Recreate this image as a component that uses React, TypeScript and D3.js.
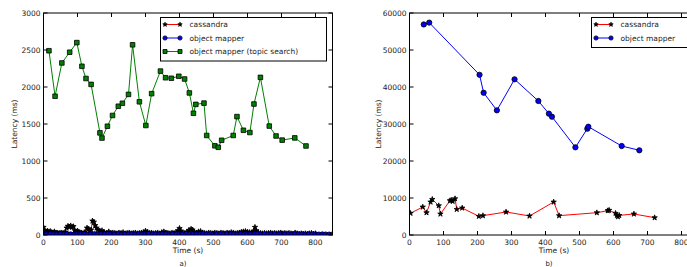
import * as d3 from 'd3';

// ---- panel a) ----
const cassandraA: [number, number][] = [
  [0, 105], [4, 60], [8, 45], [12, 55], [16, 40], [20, 50], [24, 35], [28, 30], [32, 45], [36, 25],
  [40, 30], [44, 20], [48, 25], [52, 30], [56, 20], [60, 25], [64, 40], [68, 95], [72, 120], [76, 110],
  [80, 125], [84, 105], [88, 115], [92, 60], [96, 45], [100, 55], [104, 40], [108, 25], [112, 30], [116, 20],
  [120, 35], [124, 25], [128, 95], [132, 80], [136, 60], [140, 70], [144, 190], [148, 175], [152, 130], [156, 95],
  [160, 70], [164, 55], [168, 45], [172, 60], [176, 35], [180, 30], [186, 25], [192, 45], [198, 20], [204, 30],
  [210, 25], [216, 20], [222, 30], [228, 25], [234, 35], [240, 20], [246, 25], [252, 30], [258, 20], [264, 25],
  [270, 30], [276, 20], [282, 25], [288, 30], [294, 35], [300, 55], [306, 40], [312, 25], [318, 30], [324, 20],
  [330, 25], [336, 30], [342, 20], [348, 35], [354, 45], [360, 30], [366, 25], [372, 20], [378, 30], [384, 25],
  [390, 35], [396, 60], [400, 90], [404, 55], [410, 30], [416, 25], [422, 40], [428, 65], [434, 80], [438, 70],
  [444, 40], [450, 30], [456, 45], [462, 50], [468, 30], [474, 25], [480, 20], [486, 30], [492, 25], [498, 20],
  [504, 30], [510, 25], [516, 20], [522, 30], [528, 25], [534, 20], [540, 30], [546, 25], [552, 35], [558, 30],
  [564, 20], [570, 25], [576, 30], [582, 40], [588, 45], [594, 50], [600, 40], [606, 35], [612, 30], [618, 55],
  [622, 105], [626, 60], [632, 30], [638, 25], [644, 20], [650, 25], [656, 20], [662, 25], [668, 30], [674, 20],
  [680, 25], [686, 20], [692, 25], [698, 30], [704, 20], [710, 25], [716, 20], [722, 25], [728, 20], [734, 15],
  [740, 30], [746, 20], [752, 15], [758, 20], [764, 15], [770, 20], [776, 15], [782, 20], [788, 25], [794, 15],
  [800, 20],
];

const mapperA: [number, number][] = [
  [0, 8], [10, 6], [20, 9], [30, 7], [40, 5], [50, 8], [60, 6], [70, 10], [80, 7], [90, 5],
  [100, 9], [110, 6], [120, 8], [130, 5], [140, 7], [150, 10], [160, 6], [170, 8], [180, 5], [190, 7],
  [200, 9], [210, 6], [220, 8], [230, 5], [240, 7], [250, 6], [260, 9], [270, 5], [280, 8], [290, 6],
  [300, 7], [310, 10], [320, 5], [330, 8], [340, 6], [350, 7], [360, 9], [370, 5], [380, 8], [390, 6],
  [400, 7], [410, 5], [420, 9], [430, 6], [440, 8], [450, 5], [460, 7], [470, 10], [480, 6], [490, 8],
  [500, 5], [510, 7], [520, 9], [530, 6], [540, 8], [550, 5], [560, 7], [570, 6], [580, 9], [590, 5],
  [600, 8], [610, 6], [620, 7], [630, 10], [640, 5], [650, 8], [660, 6], [670, 7], [680, 9], [690, 5],
  [700, 8], [710, 6], [720, 7], [730, 5], [740, 9], [750, 6], [760, 8], [770, 5], [780, 7], [790, 6],
  [800, 8], [810, 5], [820, 7], [830, 6], [840, 5], [850, 6],
];

const topicSearchA: [number, number][] = [
  [16, 2490], [34, 1875], [54, 2325], [77, 2470], [98, 2600], [113, 2280], [125, 2115], [140, 2035],
  [166, 1380], [172, 1310], [188, 1470], [203, 1615], [220, 1740], [232, 1780], [250, 1900], [262, 2570],
  [282, 1800], [301, 1480], [318, 1910], [344, 2215], [359, 2125], [376, 2118], [398, 2145], [415, 2108],
  [429, 1920], [441, 1645], [448, 1765], [472, 1782], [480, 1345], [504, 1205], [514, 1185], [524, 1280],
  [558, 1345], [569, 1600], [588, 1415], [607, 1385], [619, 1770], [638, 2130], [664, 1472], [684, 1338],
  [702, 1282], [739, 1312], [772, 1203],
];

// ---- panel b) ----
const cassandraB: [number, number][] = [
  [3, 5870], [39, 7570], [50, 6030], [62, 8920], [67, 9640], [86, 7930], [91, 5680], [119, 9280],
  [123, 9400], [127, 9100], [134, 9820], [139, 6940], [155, 7300], [204, 5050], [216, 5230], [284, 6220],
  [353, 5140], [424, 8920], [440, 5230], [551, 6030], [583, 6570], [587, 6700], [606, 5870], [610, 5320],
  [613, 4950], [617, 5300], [660, 5680], [721, 4680],
];

const mapperB: [number, number][] = [
  [42, 56900], [58, 57400], [206, 43300], [218, 38450], [257, 33700], [309, 42080], [379, 36220],
  [410, 32800], [419, 31970], [488, 23700], [523, 28730], [526, 29270], [624, 24050], [676, 22890],
];

const xTicks = [0, 100, 200, 300, 400, 500, 600, 700, 800];
const yTicksA = [0, 500, 1000, 1500, 2000, 2500, 3000];
const yTicksB = [0, 10000, 20000, 30000, 40000, 50000, 60000];

const FONT = 'DejaVu Sans, sans-serif';
const TOP = 13;
const BOTTOM = 235;

const star = d3.symbol(d3.symbolStar, 9)() as string;
const legendStar = d3.symbol(d3.symbolStar, 6)() as string;
const dot = d3.symbol(d3.symbolCircle, 22)() as string;
const legendDot = d3.symbol(d3.symbolCircle, 14)() as string;
const square = d3.symbol(d3.symbolSquare, 21)() as string;
const legendSquare = d3.symbol(d3.symbolSquare, 16)() as string;

type Series = {
  data: [number, number][];
  line: string;
  marker: string;
  legendMarker: string;
  fill: string;
  stroke: string;
};

function Panel({
  id, left, yMax, yTicks, series, tag, legend, legendBox,
}: {
  id: string;
  left: number;
  yMax: number;
  yTicks: number[];
  series: Series[];
  tag: string;
  legend: { label: string; s: Series }[];
  legendBox: { x: number; w: number };
}) {
  const x = d3.scaleLinear().domain([0, 850]).range([left, left + 289]);
  const y = d3.scaleLinear().domain([0, yMax]).range([BOTTOM, TOP]);
  const line = d3.line<[number, number]>().x(d => x(d[0])).y(d => y(d[1]));
  const right = left + 289;
  const cx = (left + right) / 2;
  const lh = 13.5;
  const legH = legend.length * lh + 3;

  return (
    <g>
      <defs>
        <clipPath id={id}>
          <rect x={left} y={TOP} width={289} height={BOTTOM - TOP} />
        </clipPath>
      </defs>
      <g clipPath={`url(#${id})`}>
        {series.map((s, i) => (
          <g key={i}>
            <path d={line(s.data) || ''} fill="none" stroke={s.line} strokeWidth={1} />
            {s.data.map((d, j) => (
              <path key={j} d={s.marker} transform={`translate(${x(d[0])},${y(d[1])})`}
                fill={s.fill} stroke={s.stroke} strokeWidth={0.8} />
            ))}
          </g>
        ))}
      </g>
      <rect x={left} y={TOP} width={289} height={BOTTOM - TOP} fill="none" stroke="#000" strokeWidth={1} />
      {xTicks.map(t => (
        <g key={t}>
          <line x1={x(t)} x2={x(t)} y1={BOTTOM} y2={BOTTOM - 4} stroke="#000" />
          <line x1={x(t)} x2={x(t)} y1={TOP} y2={TOP + 4} stroke="#000" />
          <text x={x(t)} y={244.5} fontSize={7.5} fontFamily={FONT} textAnchor="middle" fill="#222">{t}</text>
        </g>
      ))}
      {yTicks.map(t => (
        <g key={t}>
          <line x1={left} x2={left + 4} y1={y(t)} y2={y(t)} stroke="#000" />
          <line x1={right} x2={right - 4} y1={y(t)} y2={y(t)} stroke="#000" />
          <text x={left - 3} y={y(t) + 2.7} fontSize={7.5} fontFamily={FONT} textAnchor="end" fill="#222">{t}</text>
        </g>
      ))}
      <text x={cx} y={253} fontSize={7.5} fontFamily={FONT} textAnchor="middle" fill="#222">Time (s)</text>
      <text x={cx - 5} y={265.5} fontSize={7} fontFamily={FONT} textAnchor="middle" fill="#222">{tag}</text>
      <text transform={`translate(${left - (yMax > 10000 ? 29 : 27)},${(TOP + BOTTOM) / 2}) rotate(-90)`}
        fontSize={7.5} fontFamily={FONT} textAnchor="middle" fill="#222">Latency (ms)</text>
      <rect x={legendBox.x} y={17.5} width={legendBox.w} height={legH} fill="#fff" stroke="#000" strokeWidth={1} />
      {legend.map((l, i) => {
        const ly = 24.5 + i * lh;
        const lx0 = legendBox.x + 4.5;
        const lx1 = lx0 + 15;
        return (
          <g key={l.label}>
            <line x1={lx0} x2={lx1} y1={ly} y2={ly} stroke={l.s.line} strokeWidth={1} />
            {[lx0, lx1].map(px => (
              <path key={px} d={l.s.legendMarker} transform={`translate(${px},${ly})`}
                fill={l.s.fill} stroke={l.s.stroke} strokeWidth={0.8} />
            ))}
            <text x={lx1 + 9.5} y={ly + 2.8} fontSize={7.5} fontFamily={FONT} fill="#222">{l.label}</text>
          </g>
        );
      })}
    </g>
  );
}

export default function App() {
  const cassA: Series = { data: cassandraA, line: '#ff0000', marker: star, legendMarker: legendStar, fill: '#000', stroke: '#000' };
  const mapA: Series = { data: mapperA, line: '#0000ff', marker: dot, legendMarker: legendDot, fill: '#0000ff', stroke: '#000' };
  const topicA: Series = { data: topicSearchA, line: '#008000', marker: square, legendMarker: legendSquare, fill: '#008000', stroke: '#000' };
  const cassB: Series = { data: cassandraB, line: '#ff0000', marker: star, legendMarker: legendStar, fill: '#000', stroke: '#000' };
  const mapB: Series = { data: mapperB, line: '#0000ff', marker: dot, legendMarker: legendDot, fill: '#0000ff', stroke: '#000' };

  return (
    <svg width={687} height={267} style={{ position: 'fixed', left: 0, top: 0, background: '#fff' }}>
      <rect width={687} height={267} fill="#fff" />
      <Panel id="clipA" left={43.5} yMax={3000} yTicks={yTicksA} tag="a)"
        series={[topicA, cassA, mapA]}
        legend={[
          { label: 'cassandra', s: cassA },
          { label: 'object mapper', s: mapA },
          { label: 'object mapper (topic search)', s: topicA },
        ]}
        legendBox={{ x: 160.5, w: 166 }} />
      <Panel id="clipB" left={409.5} yMax={60000} yTicks={yTicksB} tag="b)"
        series={[cassB, mapB]}
        legend={[
          { label: 'cassandra', s: cassB },
          { label: 'object mapper', s: mapB },
        ]}
        legendBox={{ x: 591.5, w: 120 }} />
    </svg>
  );
}
